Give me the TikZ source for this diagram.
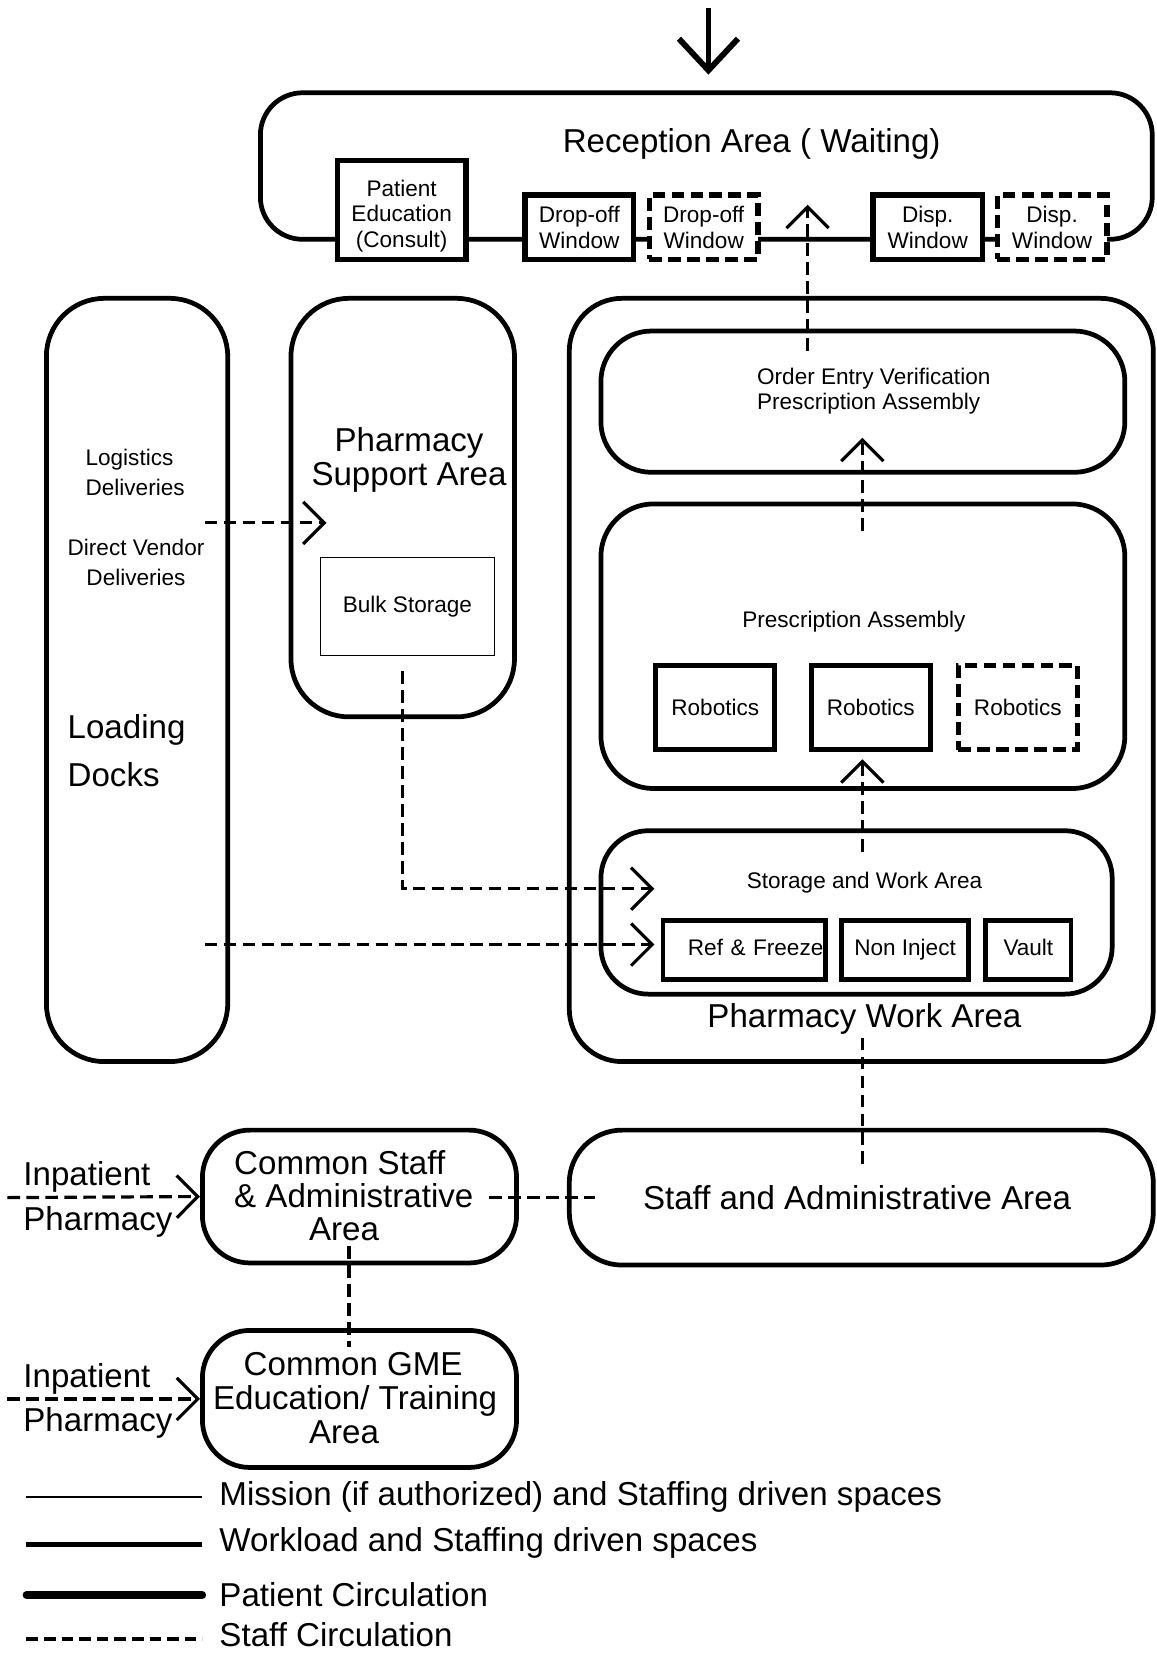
\documentclass[tikz,border=0pt]{standalone}
\usepackage{fontspec}
\setmainfont{Liberation Sans}
\usetikzlibrary{arrows.meta,calc}
\begin{document}
\begin{tikzpicture}[x=1pt,y=-1pt,
  big/.style={font=\fontsize{31.4}{33}\selectfont, inner sep=0pt},
  small/.style={font=\fontsize{21.4}{24.5}\selectfont, inner sep=0pt},
  region/.style={draw, line width=4.5pt, rounded corners=#1, inner sep=0pt},
  region/.default=45pt,
  window/.style={draw, fill=white, line width=5pt, inner sep=0pt, align=center, small},
  dashwin/.style={window, dash pattern=on 12pt off 6pt},
  robot/.style={draw, line width=4.5pt, inner sep=0pt, small, minimum width=113pt, minimum height=80pt},
  vbox/.style={draw, fill=white, line width=4.5pt, inner sep=0pt, small, minimum height=56pt, text height=16pt, text depth=5pt},
  staffline/.style={line width=3pt, dash pattern=on 12pt off 6pt},
  staffarrow/.style={staffline, -{Straight Barb[length=20pt,width=40pt,line width=3pt]}}
]
\useasboundingbox (0,0) rectangle (1097,1568);

% ---------- Reception ----------
\node[region=40pt, minimum width=846pt, minimum height=139pt] (reception) at (670,157.5) {};
\node[big] (receptiontext) at (713,137) {Reception Area ( Waiting)};
\node[window, minimum width=122pt, minimum height=94pt] (pated) at (381,199) {};
\node[small, align=center] (patedtext) at (381,205) {Patient\\Education\\(Consult)};
\node[window, minimum width=103pt, minimum height=61pt] (drop1) at (549.5,215.5) {Drop-off\\Window};
\node[dashwin, minimum width=103pt, minimum height=61pt] (drop2) at (667.5,215.5) {Drop-off\\Window};
\node[window, minimum width=104pt, minimum height=61pt] (disp1) at (880,215.5) {Disp.\\Window};
\node[dashwin, minimum width=104pt, minimum height=61pt] (disp2) at (998,215.5) {Disp.\\Window};

\coordinate (entry) at (672,8);
\draw[line width=5.5pt, -{Straight Barb[length=30pt,width=56pt,line width=5.5pt]}] (entry) -- ($(reception.north -| entry)+(0,-15)$);

% ---------- Loading docks ----------
\node[region=55pt, minimum width=172pt, minimum height=724pt] (docks) at (130,645) {};
\node[small, anchor=west, align=left, font=\fontsize{21.4}{28}\selectfont] (logtext) at (81,448) {Logistics\\Deliveries};
\node[small, align=center, font=\fontsize{21.4}{29}\selectfont] (vendtext) at (129,533.5) {Direct Vendor\\Deliveries};
\node[big, anchor=west, align=left, font=\fontsize{31.4}{45}\selectfont] (docktext) at (64,712) {Loading\\Docks};

% ---------- Pharmacy support ----------
\node[region=55pt, minimum width=212pt, minimum height=397pt] (support) at (382,481.5) {};
\node[big, align=center, font=\fontsize{31.4}{32}\selectfont] (supporttext) at (388,436) {Pharmacy\\Support Area};
\node[draw, line width=1.2pt, inner sep=0pt, minimum width=165pt, minimum height=93pt, small] (bulk) at (386.5,575.5) {Bulk Storage};

% ---------- Pharmacy work area ----------
\node[region=50pt, minimum width=554pt, minimum height=724pt] (work) at (817,645) {};
\node[big] (worktext) at (820,967) {Pharmacy Work Area};

\node[region=48pt, minimum width=497pt, minimum height=134pt] (order) at (818.5,381) {};
\node[small, anchor=west, align=left, font=\fontsize{21.4}{24}\selectfont] (ordertext) at (718,371) {Order Entry Verification\\Prescription Assembly};

\node[region=50pt, minimum width=497pt, minimum height=270pt] (presc) at (818.5,613) {};
\node[small] (presctext) at (810,590) {Prescription Assembly};
\node[robot] (rob1) at (678.5,671) {Robotics};
\node[robot] (rob2) at (826,671) {Robotics};
\node[robot, dash pattern=on 12pt off 6pt] (rob3) at (965.5,671) {Robotics};

\node[region=45pt, minimum width=485pt, minimum height=155pt] (storage) at (812.5,865.5) {};
\node[small] (storagetext) at (820,837) {Storage and Work Area};
\node[vbox, minimum width=154pt, text width=150pt, align=right] (ref) at (706,901) {Ref \& Freeze};
\node[vbox, minimum width=121pt] (noninj) at (858.5,901) {Non Inject};
\node[vbox, minimum width=81pt] (vault) at (975.5,901) {Vault};

% ---------- Staff areas ----------
\node[region=50pt, minimum width=554pt, minimum height=128pt] (staffadm) at (817,1136) {};
\node[big] (staffadmtext) at (813,1136) {Staff and Administrative Area};

\node[region=45pt, minimum width=298pt, minimum height=126pt] (common) at (341,1135) {};
\node[big, anchor=west, align=left, font=\fontsize{31.4}{31.5}\selectfont] (commontext) at (222,1134) {Common Staff\\\& Administrative\\\hspace*{71pt}Area};

\node[region=45pt, minimum width=298pt, minimum height=130pt] (gme) at (341,1327) {};
\node[big, anchor=west, align=left, font=\fontsize{31.4}{32}\selectfont] (gmetext) at (202,1326) {\hspace*{29pt}Common GME\\Education/ Training\\\hspace*{91pt}Area};

\coordinate (inp1) at (7,1136);
\coordinate (inp2) at (7,1327);
\node[big, anchor=west, align=left, font=\fontsize{31.4}{43}\selectfont] (inp1text) at (22,1138) {Inpatient\\Pharmacy};
\node[big, anchor=west, align=left, font=\fontsize{31.4}{42}\selectfont] (inp2text) at (22,1329) {Inpatient\\Pharmacy};

% ---------- Connectors ----------
\draw[staffarrow] ($(order.north)+(-52.5,21)$) -- ($(reception.south)+(96,-35)$);
\draw[staffarrow] ($(presc.north)+(-0.5,28)$) -- ($(order.south)+(-0.5,-35)$);
\draw[staffarrow] ($(storage.north)+(5.5,22)$) -- ($(rob2.south)+(-8,7)$);
\draw[staffarrow] ($(docks.east)+(-24,-149)$) -- ($(support.west)+(36,14.5)$);
\draw[staffarrow] ($(bulk.south)+(-4.5,14)$) |- ($(storage.west)+(53,-22.5)$);
\draw[staffarrow] ($(docks.east)+(-24,251)$) -- ($(ref.west)+(-6,-5)$);
\draw[staffline] ($(work.south)+(1,-25)$) -- ($(staffadm.north)+(1,40)$);
\draw[staffline] ($(common.east)+(-28,1)$) -- ($(staffadm.west)+(27,0)$);
\draw[staffline] ($(common.south)+(-10,-18)$) -- ($(gme.north)+(-10,18)$);
\draw[staffarrow] (inp1) -- (common.west);
\draw[staffarrow] (inp2) -- (gme.west);

% ---------- Legend ----------
\coordinate (l1a) at (25,1420); \coordinate (l1b) at (192,1420);
\coordinate (l2a) at (25,1465); \coordinate (l2b) at (192,1465);
\coordinate (l3a) at (25,1513); \coordinate (l3b) at (192,1513);
\coordinate (l4a) at (25,1555); \coordinate (l4b) at (192,1555);
\draw[line width=1.2pt] (l1a) -- (l1b);
\draw[line width=4pt] (l2a) -- (l2b);
\draw[line width=7pt, line cap=round] (l3a) -- (l3b);
\draw[line width=3.5pt, dash pattern=on 11pt off 5.7pt] (l4a) -- (l4b);
\node[big, anchor=west] (leg1) at (208,1420) {Mission (if authorized) and Staffing driven spaces};
\node[big, anchor=west] (leg2) at (208,1464) {Workload and Staffing driven spaces};
\node[big, anchor=west] (leg3) at (208,1513) {Patient Circulation};
\node[big, anchor=west] (leg4) at (208,1551) {Staff Circulation};
\end{tikzpicture}
\end{document}
